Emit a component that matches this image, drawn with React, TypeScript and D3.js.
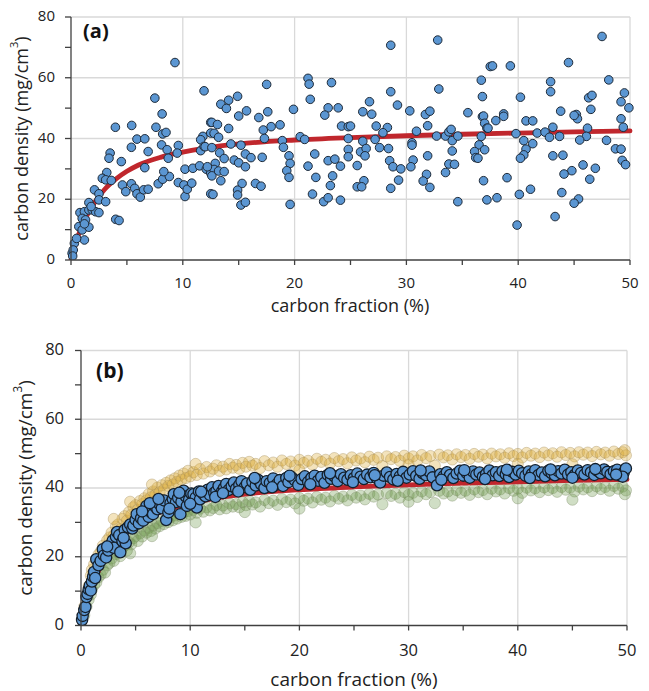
import React from "react";
import * as d3 from "d3";

// ---------- DATA ----------
const xTicks = [0, 10, 20, 30, 40, 50];
const yTicks = [0, 20, 40, 60, 80];

// fitted curve
const fitX = [0, 0.5, 1, 1.5, 2, 3, 4, 5, 6, 8, 10, 12, 15, 20, 25, 30, 35, 40, 45, 50];
const fitY = [0, 6.5, 11.3, 15.2, 18.3, 23.2, 26.6, 29.2, 31.2, 33.8, 35.5, 36.8, 38.2, 39.5, 40.3, 40.9, 41.4, 41.8, 42.2, 42.5];

// panel (a) measurements [carbon fraction, carbon density]
const pointsA: [number, number][] = [
  [9.3,65],[11.9,55.7],[7.5,53.3],[8.15,48.1],[3.97,43.7],[5.43,44.3],[7.6,43.7],[8.2,41.5],[8.5,42],[5.9,39.8],
  [6.6,39.9],[5.4,37.1],[6.9,35.7],[8.1,37.9],[8.6,36.3],[9.6,37.7],[9.5,35.2],[8.7,33.5],[6.6,30.4],[3.5,35.2],
  [3.4,33.5],[4.5,32.4],[3.2,28.8],[2.8,26.9],[3.1,26.4],[3.6,26.2],[2.1,23.1],[2.5,21.8],[2.5,19.8],[3.1,19.2],
  [1.6,18.9],[4.6,24.7],[4.9,22.5],[5.4,25.1],[5.7,23.6],[5.9,21.8],[6.2,20.7],[6.5,23.1],[6.9,23.3],[7.8,25.1],
  [8.2,26.6],[8.8,27.5],[8.3,29.1],[9.6,25.5],[10.1,24.7],[10.2,20.9],[10.4,23.3],[10.8,25.3],[10.2,29.9],[10.9,30.2],
  [11.5,31],[11.8,40.7],[11.6,39.6],[11.6,36],[11.9,37.4],[12.1,29.9],[12.5,45.3],[12.5,41.8],[12.5,28.6],[12.5,21.8],
  [4.0,13.4],[4.3,13],[0.8,15.6],[1.2,15.9],[1.6,16.5],[1.9,16.5],[2.2,15.9],[2.5,15.6],[1.0,13.7],[1.3,13.2],
  [0.7,11],[1.0,9.9],[1.6,10.8],[1.2,6.6],[0.3,5.5],[0.5,7.1],[0.1,2.2],[0.2,3.3],[0.15,1.3],[1.2,11.9],[1.8,17.6],
  [17.5,57.8],[14.9,53.9],[14.1,52.6],[13.4,51.3],[13.9,49.9],[15.0,47.4],[15.7,49.1],[16.8,46.9],[17.6,48.8],[12.6,45.3],
  [13.1,44.6],[14.1,43.3],[12.8,41.7],[13.2,40.4],[12.0,37.3],[12.6,37],[14.3,38.2],[15.2,37.8],[13.3,35.3],[13.7,33.4],
  [15.6,34.9],[16.1,33.7],[14.6,32.9],[15.0,32],[15.6,30.7],[17.1,33.8],[12.9,31.8],[12.8,29.8],[12.2,30.7],[12.6,27.7],
  [13.2,29.3],[13.7,29.1],[13.4,26.1],[12.7,21.6],[15.3,25.2],[14.9,23],[14.9,21.4],[15.2,18.1],[15.6,19],[16.5,25.2],
  [17.0,24.3],[17.2,42.8],[17.3,40],[17.9,43.9],[18.7,44.5],[18.9,39.3],[19.0,37.1],[19.5,34.3],[19.6,31.8],[19.3,29.4],
  [19.5,27.2],[19.6,18.3],[19.9,49.6],[21.2,59.8],[21.3,57.9],[21.4,52.9],[23.3,58.4],[23.0,50.1],[22.7,47.7],[23.9,50.1],
  [20.5,40.6],[20.9,39.7],[21.8,34.9],[21.2,30.9],[21.9,27.2],[21.6,21.7],[22.6,19.2],[23.0,20.5],[24.1,19.7],[23.2,24.5],
  [23.4,27.7],[23.0,32.7],[23.6,33.2],[24.1,30.9],[24.2,44.1],[24.8,43.9],[24.8,40],[24.8,36.4],[24.8,34],
  [28.6,70.7],[32.8,72.4],[28.6,55.4],[26.7,52.1],[26.1,48.8],[26.9,48],[29.2,51],[30.3,49.1],[31.7,47.9],[32.1,49],
  [32.9,56.3],[31.9,44.2],[25.0,44.1],[27.3,44.1],[28.3,43.6],[27.9,41.9],[27.2,39.7],[26.1,39.1],[25.9,35.6],[26.4,36.7],
  [26.3,34.3],[27.6,37],[28.4,36.7],[28.5,32.7],[28.8,30.7],[29.5,30.0],[25.6,31.1],[26.2,26.1],[25.6,24.1],[26.0,24.1],
  [28.6,23.6],[29.3,26.3],[30.5,38.6],[30.5,37.8],[30.9,42.4],[30.6,32.9],[30.4,30.7],[31.8,28.2],[31.5,26],[32.1,23.9],
  [31.9,34.3],[32.7,40.8],[33.5,40.8],[33.8,42.2],[34.0,43],[34.1,39.3],[34.6,40.8],[34.1,35.9],[33.8,31.6],[34.3,31.5],
  [33.5,28.8],[34.6,19.2],[35.5,48.5],[36.7,59.2],[36.8,53.8],[36.8,47.2],[36.9,47.4],[37.0,45],[37.2,43.4],[36.7,40.7],
  [36.5,37.9],[36.1,35.7],[36.2,33.7],[36.4,33.5],[37.0,36.3],[36.9,26.1],[37.2,19.8],[37.5,63.7],
  [37.7,63.9],[39.3,63.9],[47.5,73.6],[44.5,65],[42.9,58.7],[42.9,55.4],[48.1,59.3],[40.2,53.6],[49.5,55],[49.2,52.1],
  [49.9,50.1],[46.3,53.4],[46.6,54.2],[46.5,49.6],[43.8,49.0],[45.2,47.9],[45.3,46.5],[45.0,47.6],[38.7,48.1],[38.0,45.9],
  [38.7,47.3],[37.3,43.4],[40.7,45.8],[41.3,45.8],[39.8,41.6],[41.7,41.8],[42.4,42.1],[43.1,43.7],[42.8,40.4],[43.7,40.7],
  [46.2,43.4],[46.1,40.7],[45.5,39.5],[47.9,39.4],[49.2,46.5],[49.4,43.7],[48.7,36.6],[49.2,36.5],[49.3,32.8],[49.6,31.4],
  [40.5,39.3],[40.7,36.5],[40.5,34.6],[40.2,33.5],[41.3,38.3],[43.1,34.3],[44.0,34.5],[45.8,31.3],[46.9,30.2],[44.8,29.4],
  [44.1,28.3],[46.4,26.6],[39.0,27.1],[38.1,20.5],[40.1,21.6],[41.1,23.3],[43.9,22.2],[45.4,20.1],[45.0,18.7],[43.3,14.3],
  [39.9,11.5],
];

// panel (b) measurements
const pointsBlue: [number, number][] = [
  [0.1,1.6],[0.15,2.8],[0.3,4.5],[0.4,5.4],[0.5,8.3],[0.6,9.2],[0.7,10.5],[0.8,11.6],[0.9,10.2],[1.0,12.8],
  [1.1,14.2],[1.2,15.6],[1.3,13.8],[1.4,19.3],[1.6,17.5],[1.8,18.8],[2.0,22.2],[2.1,20.4],[2.3,19.8],[2.5,21.8],
  [2.7,23.5],[2.9,24.7],[3.0,22.6],[3.2,25.8],[3.3,27.2],[3.5,26.3],[3.6,21.3],[3.8,24.5],[4.0,27.8],[4.1,23.9],
  [4.3,28.6],[4.5,29.4],[4.7,28.2],[4.8,29.1],[5.0,30.8],[5.1,32.4],[5.3,29.7],[5.5,31.2],[5.7,30.5],[5.9,33.5],
  [6.0,34.8],[6.2,31.6],[6.4,33.0],[6.6,32.4],[6.8,34.6],[7.0,33.8],[7.2,35.3],[7.4,34.1],[7.6,36.4],[7.8,30.7],
  [8.0,32.9],[8.2,35.6],[8.4,36.8],[8.5,38.2],[8.7,35.9],[8.9,37.1],[9.1,32.4],[9.2,36.0],[9.4,39.2],[9.6,37.5],
  [9.7,34.8],[9.9,36.6],[10.1,38.4],[10.3,38.2],[10.5,37.2],[10.6,34.3],[10.8,39.0],[10.9,36.7],[11.2,38.3],[11.4,37.6],
  [11.6,39.5],[11.8,38.0],[12.0,40.2],[12.2,38.6],[12.4,39.1],[12.6,40.6],[12.9,38.9],[13.1,40.0],[13.3,41.2],[13.5,39.4],
  [13.8,40.5],[14.0,41.6],[14.2,39.8],[14.5,40.9],[14.7,42.0],[15.0,40.3],[15.2,41.3],[15.5,39.5],[15.7,41.8],[16.0,40.7],
  [16.2,42.4],[16.5,41.1],[16.8,40.0],[17.0,42.0],[17.3,41.5],[17.6,42.8],[17.9,41.0],[18.2,42.3],[18.5,40.6],[18.8,42.9],
  [19.0,41.7],[19.3,43.1],[19.6,42.2],[19.9,40.9],[20.2,42.6],[20.5,43.4],[20.8,41.8],[21.1,42.9],[21.4,43.6],[21.7,42.1],
  [22.0,43.2],[22.3,41.5],[22.6,43.8],[22.9,42.7],[23.2,43.4],[23.5,42.0],[23.8,44.0],[24.1,43.0],[24.4,42.4],[24.7,43.7],
  [25.0,42.9],[25.3,44.2],[25.6,43.3],[25.9,42.6],[26.2,43.9],[26.5,43.1],[26.8,44.4],[27.1,42.8],[27.4,41.6],[27.7,43.6],
  [28.0,44.5],[28.3,43.2],[28.6,42.5],[28.9,44.1],[29.2,43.4],[29.5,44.7],[29.8,43.0],[30.1,43.9],[30.4,44.9],[30.7,43.5],
  [31.0,42.7],[31.3,44.3],[31.6,43.7],[31.9,44.8],[32.2,43.1],[32.6,40.8],[32.9,44.0],[33.2,43.4],[33.5,44.6],[33.8,43.8],
  [34.1,42.9],[34.4,44.2],[34.7,45.0],[35.0,43.6],[35.3,44.4],[35.6,43.0],[35.9,44.8],[36.2,43.9],[36.5,44.5],[36.8,43.3],
  [37.1,44.1],[37.4,45.1],[37.7,43.7],[38.0,44.6],[38.3,43.5],[38.6,44.9],[38.9,44.0],[39.2,43.2],[39.5,44.7],[39.8,43.9],
  [40.1,45.0],[40.4,44.3],[40.7,43.6],[41.0,44.8],[41.3,44.1],[41.6,45.2],[41.9,43.8],[42.2,44.5],[42.5,43.4],[42.8,45.0],
  [43.1,44.3],[43.4,43.7],[43.7,44.9],[44.0,44.2],[44.3,45.3],[44.6,43.9],[44.9,44.6],[45.2,43.8],[45.5,45.1],[45.8,44.4],
  [46.1,43.9],[46.4,45.2],[46.7,44.6],[47.0,43.8],[47.3,45.0],[47.6,44.3],[47.9,45.4],[48.2,44.7],[48.5,44.0],[48.8,44.9],
  [49.1,45.3],[49.4,43.6],[49.7,44.5],[49.9,45.7],[49.6,43.3],
  [2.4,23.0],[3.9,25.5],[5.6,33.2],[6.3,35.6],[7.1,36.8],[8.1,34.0],[9.0,38.6],[10.0,35.4],[11.0,38.9],[12.3,37.4],
  [13.0,38.5],[14.4,39.0],[15.9,42.9],[17.5,40.2],[19.1,43.6],[21.0,41.1],[22.8,44.3],[24.9,41.7],[26.9,43.7],[29.0,42.1],
  [31.1,45.1],[33.0,42.4],[35.1,45.2],[37.0,42.6],[39.0,45.3],[41.1,42.9],[43.0,45.4],[45.0,43.0],[47.1,45.5],[49.0,43.9],
];

const pointsYellow: [number, number][] = [
  [0.3,5.5],[0.5,8.8],[0.7,11.5],[0.9,14.5],[1.0,16.2],[1.2,17.8],[1.4,19.0],[1.6,20.6],[1.8,21.5],[2.0,23.2],
  [2.2,22.0],[2.4,24.8],[2.6,25.6],[2.8,27.0],[3.0,26.2],[3.2,28.8],[3.4,29.4],[3.6,28.0],[3.8,31.0],[4.0,31.8],
  [4.2,30.5],[4.4,33.0],[4.6,32.2],[4.8,34.4],[5.0,35.0],[5.2,33.6],[5.4,36.2],[5.6,35.3],[5.8,37.0],[6.0,36.4],
  [6.2,38.2],[6.4,37.3],[6.6,39.0],[6.8,38.0],[7.0,40.1],[7.2,38.8],[7.4,40.8],[7.6,39.6],[7.8,41.5],[8.0,40.6],
  [8.2,42.2],[8.4,41.0],[8.6,42.8],[8.8,41.8],[9.0,43.6],[9.2,42.4],[9.4,44.2],[9.6,42.9],[9.8,45.0],[10.0,43.4],
  [10.3,44.6],[10.6,43.8],[10.9,45.5],[11.2,44.2],[11.5,46.1],[11.8,44.8],[12.1,45.6],[12.4,46.6],[12.7,45.0],[13.0,46.2],
  [13.3,45.4],[13.6,47.0],[13.9,45.9],[14.2,46.7],[14.5,45.6],[14.8,47.3],[15.1,46.2],[15.4,47.6],[15.7,46.5],[16.0,47.0],
  [16.4,45.8],[16.8,47.8],[17.2,46.6],[17.6,47.4],[18.0,46.2],[18.4,48.0],[18.8,47.0],[19.2,47.7],[19.6,46.5],[20.0,48.2],
  [20.4,47.3],[20.8,47.9],[21.2,46.8],[21.6,48.5],[22.0,47.6],[22.4,48.2],[22.8,47.1],[23.2,48.7],[23.6,47.8],[24.0,48.4],
  [24.4,47.2],[24.8,48.9],[25.2,48.0],[25.6,48.6],[26.0,47.5],[26.4,49.1],[26.8,48.2],[27.2,48.8],[27.6,46.4],[28.0,49.2],
  [28.4,48.4],[28.8,49.0],[29.2,47.9],[29.6,49.4],[30.0,48.6],[30.4,49.2],[30.8,48.0],[31.2,49.6],[31.6,48.7],[32.0,49.3],
  [32.4,46.5],[32.8,49.7],[33.2,48.9],[33.6,49.5],[34.0,48.3],[34.4,49.8],[34.8,49.0],[35.2,49.6],[35.6,48.5],[36.0,49.9],
  [36.4,49.1],[36.8,49.7],[37.2,48.6],[37.6,50.0],[38.0,49.2],[38.4,49.8],[38.8,48.8],[39.2,50.1],[39.6,49.3],[40.0,49.9],
  [40.4,48.9],[40.8,50.2],[41.2,49.4],[41.6,50.0],[42.0,49.0],[42.4,50.3],[42.8,49.5],[43.2,50.1],[43.6,49.1],[44.0,50.4],
  [44.4,49.6],[44.8,50.2],[45.2,49.2],[45.6,50.4],[46.0,49.7],[46.4,50.3],[46.8,49.3],[47.2,50.5],[47.6,49.8],[48.0,50.3],
  [48.4,49.4],[48.8,50.6],[49.2,49.9],[49.6,50.4],[49.9,49.5],[49.8,51.0],[10.5,47.0],[20.0,45.2],[30.0,46.8],[40.0,47.0],
  [45.0,46.9],[6.5,41.0],[4.5,36.0],[3.0,31.0],
];

const pointsGreen: [number, number][] = [
  [0.3,3.0],[0.5,5.5],[0.7,7.5],[0.9,9.0],[1.0,10.5],[1.2,11.8],[1.4,12.5],[1.6,14.0],[1.8,14.8],[2.0,16.2],
  [2.2,15.4],[2.4,17.5],[2.6,18.2],[2.8,19.5],[3.0,18.8],[3.2,20.8],[3.4,21.4],[3.6,20.2],[3.8,22.6],[4.0,23.2],
  [4.2,21.8],[4.4,24.2],[4.6,23.6],[4.8,25.4],[5.0,26.0],[5.2,24.6],[5.4,26.8],[5.6,25.9],[5.8,27.6],[6.0,27.0],
  [6.2,28.4],[6.4,27.5],[6.6,29.1],[6.8,28.2],[7.0,29.8],[7.2,28.9],[7.4,30.4],[7.6,29.5],[7.8,31.0],[8.0,30.1],
  [8.2,31.5],[8.4,30.6],[8.6,32.0],[8.8,31.1],[9.0,32.4],[9.2,31.6],[9.4,32.9],[9.6,31.9],[9.8,33.3],[10.0,32.3],
  [10.3,33.6],[10.6,32.8],[10.9,34.0],[11.2,33.1],[11.5,34.4],[11.8,33.5],[12.1,34.2],[12.4,35.0],[12.7,33.8],[13.0,34.9],
  [13.3,34.1],[13.6,35.5],[13.9,34.6],[14.2,35.3],[14.5,34.4],[14.8,35.9],[15.1,35.0],[15.4,36.2],[15.7,35.2],[16.0,35.8],
  [16.4,34.6],[16.8,36.5],[17.2,35.6],[17.6,36.3],[18.0,35.1],[18.4,36.8],[18.8,35.9],[19.2,36.6],[19.6,35.5],[20.0,37.1],
  [20.4,36.3],[20.8,36.9],[21.2,35.8],[21.6,37.4],[22.0,36.6],[22.4,37.2],[22.8,36.1],[23.2,37.7],[23.6,36.9],[24.0,37.5],
  [24.4,36.4],[24.8,38.0],[25.2,37.2],[25.6,37.8],[26.0,36.7],[26.4,38.3],[26.8,37.5],[27.2,38.1],[27.6,35.3],[28.0,38.5],
  [28.4,37.7],[28.8,38.3],[29.2,37.2],[29.6,38.8],[30.0,38.0],[30.4,38.6],[30.8,37.4],[31.2,39.0],[31.6,38.2],[32.0,38.8],
  [32.4,35.6],[32.8,39.2],[33.2,38.4],[33.6,39.0],[34.0,37.8],[34.4,39.4],[34.8,38.6],[35.2,39.2],[35.6,38.0],[36.0,39.6],
  [36.4,38.8],[36.8,39.4],[37.2,38.2],[37.6,39.8],[38.0,39.0],[38.4,39.6],[38.8,38.4],[39.2,40.0],[39.6,39.2],[40.0,39.8],
  [40.4,38.6],[40.8,40.1],[41.2,39.3],[41.6,39.9],[42.0,38.8],[42.4,40.2],[42.8,39.4],[43.2,40.0],[43.6,38.9],[44.0,40.3],
  [44.4,39.5],[44.8,40.1],[45.2,39.0],[45.6,40.4],[46.0,39.6],[46.4,40.2],[46.8,39.1],[47.2,40.5],[47.6,39.7],[48.0,40.3],
  [48.4,39.2],[48.8,40.6],[49.2,39.8],[49.6,40.4],[49.9,39.3],[49.8,38.2],[10.5,30.0],[20.0,34.0],[15.0,33.0],[30.0,36.0],
  [40.0,37.0],[45.0,36.6],[6.5,26.0],[4.5,21.0],
];

// ---------- CHART ----------
const FONT = "'Open Sans', 'Noto Sans', sans-serif";

type PanelProps = {
  left: number; right: number; top: number; bottom: number;
  label: string; fontSize: number; titleSize: number; labelSize: number; labelDx: number; labelDy: number;
  titleX: number; titleY: number; yTitleX: number; tickLabelGap: number; xLabelY: number;
  children: (x: d3.ScaleLinear<number, number>, y: d3.ScaleLinear<number, number>) => React.ReactNode;
};

function Panel(p: PanelProps) {
  const x = d3.scaleLinear().domain([0, 50]).range([p.left, p.right]);
  const y = d3.scaleLinear().domain([0, 80]).range([p.bottom, p.top]);
  const minorX = d3.range(0, 51, 5);
  const minorY = d3.range(0, 81, 10);
  return (
    <g>
      {xTicks.filter((t) => t > 0).map((t) => (
        <line key={"gx" + t} x1={x(t)} x2={x(t)} y1={p.top} y2={p.bottom} stroke="#d9d9d9" strokeWidth={1.3} />
      ))}
      {yTicks.filter((t) => t > 0).map((t) => (
        <line key={"gy" + t} x1={p.left} x2={p.right} y1={y(t)} y2={y(t)} stroke="#d9d9d9" strokeWidth={1.3} />
      ))}
      <defs>
        <clipPath id={"clip" + p.label}>
          <rect x={p.left - 8} y={p.top - 8} width={p.right - p.left + 16} height={p.bottom - p.top + 8} />
        </clipPath>
      </defs>
      <g clipPath={`url(#clip${p.label})`}>{p.children(x, y)}</g>
      <line x1={p.left} x2={p.left} y1={p.top} y2={p.bottom} stroke="#404040" strokeWidth={1.3} />
      <line x1={p.left} x2={p.right} y1={p.bottom} y2={p.bottom} stroke="#404040" strokeWidth={1.3} />
      {minorX.map((t) => (
        <line key={"tx" + t} x1={x(t)} x2={x(t)} y1={p.bottom} y2={p.bottom + 5} stroke="#404040" strokeWidth={1.3} />
      ))}
      {minorY.map((t) => (
        <line key={"ty" + t} x1={p.left - 6} x2={p.left} y1={y(t)} y2={y(t)} stroke="#404040" strokeWidth={1.3} />
      ))}
      {xTicks.map((t) => (
        <text key={"lx" + t} x={x(t)} y={p.xLabelY} textAnchor="middle" fontSize={p.fontSize} fontFamily={FONT} fill="#222" dominantBaseline="middle">{t}</text>
      ))}
      {yTicks.map((t) => (
        <text key={"ly" + t} x={p.left - p.tickLabelGap} y={y(t)} textAnchor="end" fontSize={p.fontSize} fontFamily={FONT} fill="#222" dominantBaseline="middle">{t}</text>
      ))}
      <text x={p.titleX} y={p.titleY} textAnchor="middle" fontSize={p.titleSize} fontFamily={FONT} fill="#222" dominantBaseline="middle">carbon fraction (%)</text>
      <text transform={`translate(${p.yTitleX},${(p.top + p.bottom) / 2}) rotate(-90)`} textAnchor="middle" fontSize={p.titleSize} fontFamily={FONT} fill="#222" dominantBaseline="middle">
        carbon density (mg/cm<tspan baselineShift="super" fontSize={p.titleSize * 0.62}>3</tspan>)
      </text>
      <text x={p.left + p.labelDx} y={p.top + p.labelDy} fontSize={p.labelSize} fontWeight="bold" fontFamily={FONT} fill="#111" dominantBaseline="middle">({p.label})</text>
    </g>
  );
}

function FitLine({ x, y, width }: { x: d3.ScaleLinear<number, number>; y: d3.ScaleLinear<number, number>; width: number }) {
  const pts = fitX.map((v, i) => [v, fitY[i]] as [number, number]);
  const line = d3.line<[number, number]>().x((d) => x(d[0])).y((d) => y(d[1])).curve(d3.curveMonotoneX);
  return <path d={line(pts) || ""} fill="none" stroke="#c0272d" strokeWidth={width} strokeLinecap="round" />;
}

export default function App() {
  return (
    <svg width={649} height={691} style={{ display: "block", position: "absolute", left: 0, top: 0, background: "#fff" }}>
      <Panel left={71} right={630} top={17} bottom={260} label="a" fontSize={15} titleSize={18} labelSize={20} labelDx={12} labelDy={16}
        titleX={350} titleY={307} yTitleX={23} tickLabelGap={16} xLabelY={284}>
        {(x, y) => (
          <g>
            <FitLine x={x} y={y} width={4.8} />
            {pointsA.map((d, i) => (
              <circle key={i} cx={x(d[0])} cy={y(d[1])} r={4.3} fill="#5b96d2" stroke="#1e2a38" strokeWidth={1} />
            ))}
          </g>
        )}
      </Panel>
      <Panel left={81} right={627} top={350.5} bottom={625.5} label="b" fontSize={16.5} titleSize={19} labelSize={21} labelDx={15} labelDy={21.5}
        titleX={354} titleY={681} yTitleX={27} tickLabelGap={17} xLabelY={652}>
        {(x, y) => (
          <g>
            {pointsYellow.map((d, i) => (
              <circle key={"yy" + i} cx={x(d[0])} cy={y(d[1])} r={5.6} fill="#dcaa35" fillOpacity={0.33} stroke="#a89060" strokeOpacity={0.4} strokeWidth={1} />
            ))}
            {pointsGreen.map((d, i) => (
              <circle key={"gg" + i} cx={x(d[0])} cy={y(d[1])} r={5.6} fill="#6f9a4e" fillOpacity={0.33} stroke="#7f8f6a" strokeOpacity={0.4} strokeWidth={1} />
            ))}
            <FitLine x={x} y={y} width={4.8} />
            {pointsBlue.map((d, i) => (
              <circle key={"bb" + i} cx={x(d[0])} cy={y(d[1])} r={5.6} fill="#5b96d2" stroke="#15202c" strokeWidth={1.3} />
            ))}
          </g>
        )}
      </Panel>
    </svg>
  );
}
